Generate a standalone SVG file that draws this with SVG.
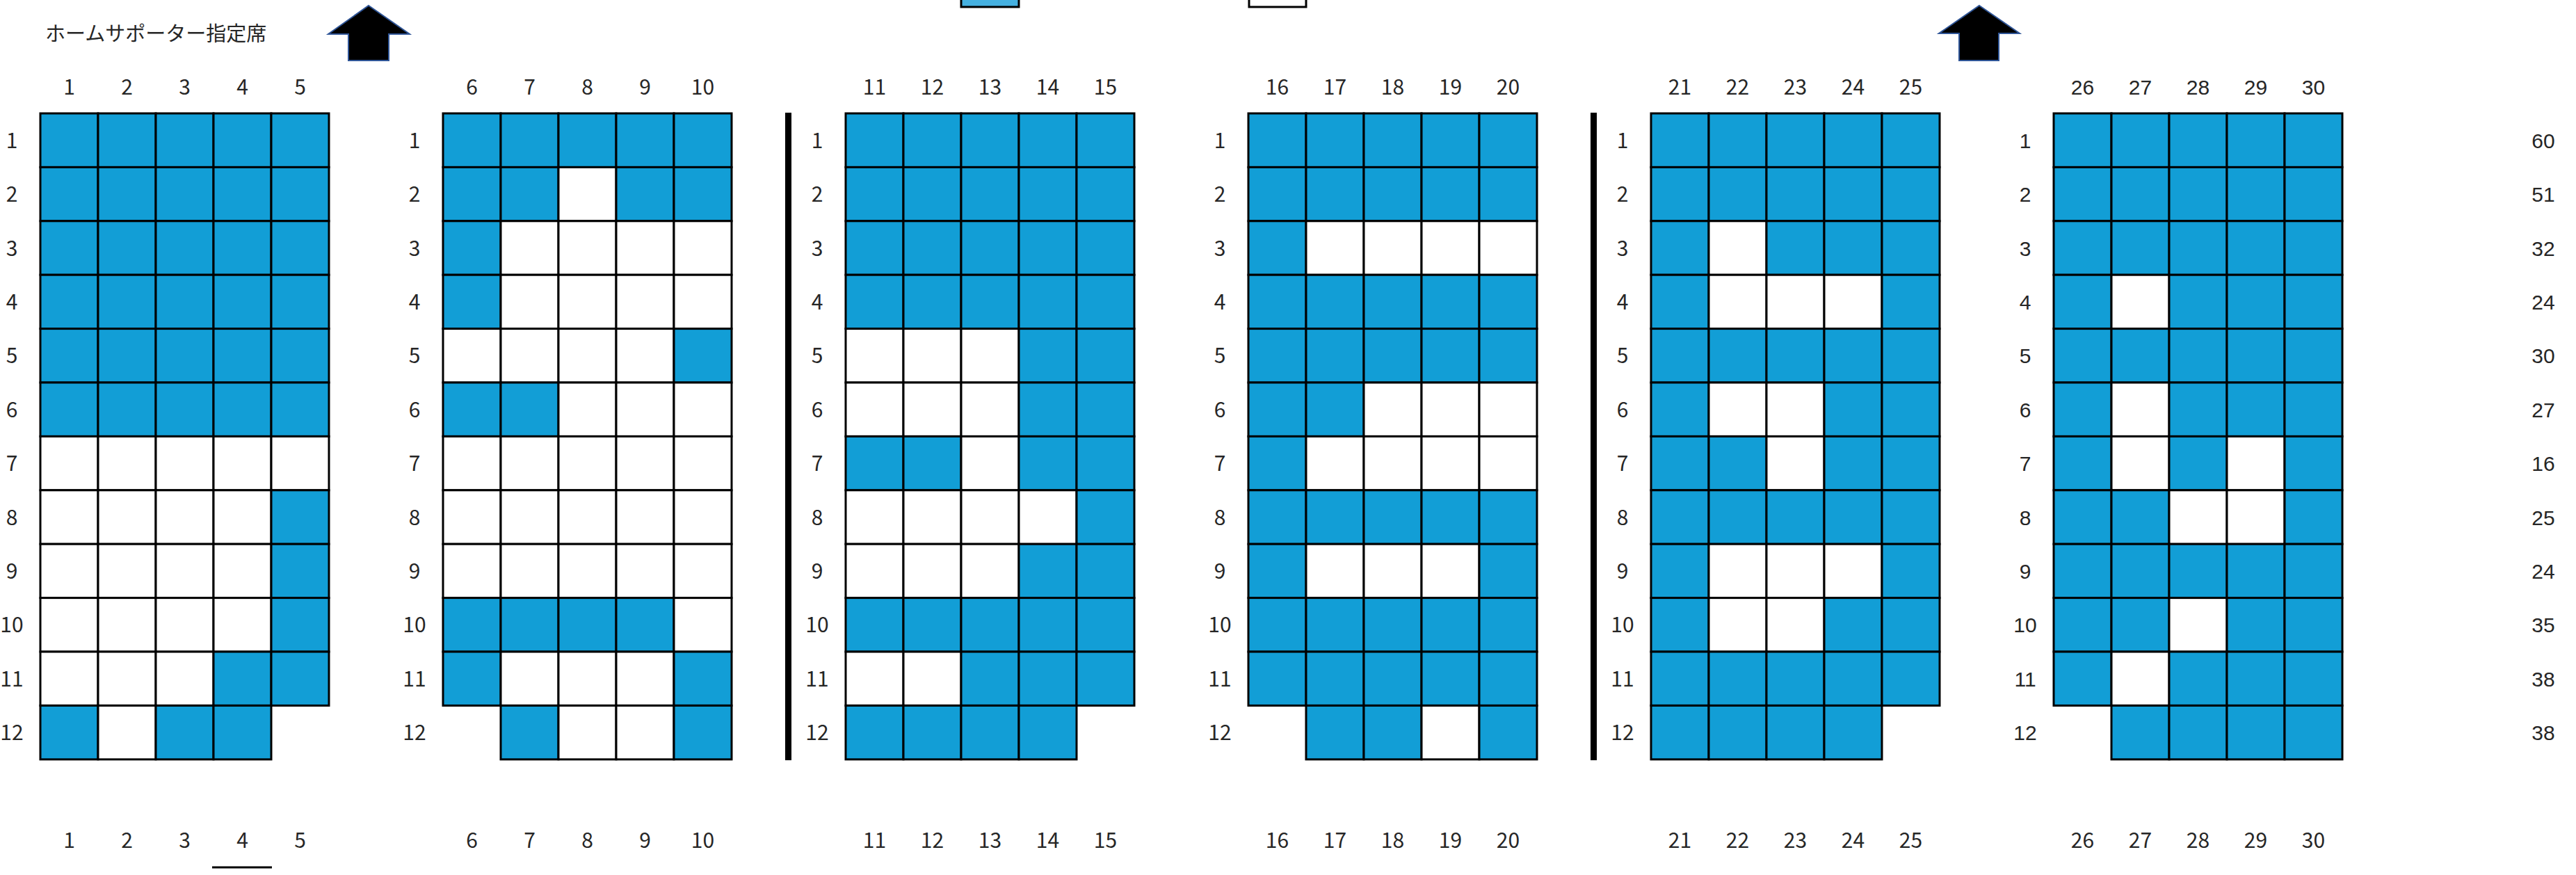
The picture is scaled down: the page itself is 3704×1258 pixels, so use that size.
<svg xmlns="http://www.w3.org/2000/svg" xmlns:xlink="http://www.w3.org/1999/xlink" width="3704" height="1258" viewBox="0 0 3704 1258">
<style>
.b{fill:#129ed6;stroke:#000;stroke-width:3}
.w{fill:#fff;stroke:#000;stroke-width:3}
text{font-family:"Noto Sans CJK JP","Noto Sans",sans-serif;font-size:30px;fill:#262626;text-anchor:middle}
.ar text{font-family:"Liberation Sans",Arial,sans-serif;font-size:30px}
.title{text-anchor:start;font-size:29px}
.arrow{fill:#000;stroke:#2f5597;stroke-width:2}
</style>
<defs>
<rect id="B" class="b" width="83" height="77.4"/>
<rect id="W" class="w" width="83" height="77.4"/>
<g id="RB"><use href="#B" x="0"/><use href="#B" x="83"/><use href="#B" x="166"/><use href="#B" x="249"/><use href="#B" x="332"/></g>
<g id="RW"><use href="#W" x="0"/><use href="#W" x="83"/><use href="#W" x="166"/><use href="#W" x="249"/><use href="#W" x="332"/></g>
<g id="rowlabels">
<text x="-41" y="49.7">1</text><text x="-41" y="127.1">2</text><text x="-41" y="204.5">3</text><text x="-41" y="281.9">4</text><text x="-41" y="359.3">5</text><text x="-41" y="436.7">6</text><text x="-41" y="514.1">7</text><text x="-41" y="591.5">8</text><text x="-41" y="668.9">9</text><text x="-41" y="746.3">10</text><text x="-41" y="823.7">11</text><text x="-41" y="901.1">12</text>
</g>
</defs>

<g id="header">
<text class="title" x="65" y="59">ホームサポーター指定席</text>
<polygon class="arrow" points="530,8 589,49 559,49 559,87 501,87 501,49 472,49"/>
<polygon class="arrow" points="2846,8 2904,48 2874,48 2874,87 2817,87 2817,48 2788,48"/>
<rect x="1382" y="-70" width="83" height="80" fill="#45b1e1" stroke="#000" stroke-width="3"/>
<rect x="1796" y="-70" width="82" height="80" fill="#fff" stroke="#000" stroke-width="3"/>
</g>

<g id="dividers">
<rect x="1129" y="162" width="9" height="931" fill="#000"/>
<rect x="2287" y="162" width="9" height="931" fill="#000"/>
</g>

<g id="block-1" transform="translate(58,163)">
<use href="#RB" y="0"/><use href="#RB" y="77.4"/><use href="#RB" y="154.8"/><use href="#RB" y="232.2"/><use href="#RB" y="309.6"/><use href="#RB" y="387"/>
<use href="#RW" y="464.4"/>
<use href="#W" x="0" y="541.8"/><use href="#W" x="83" y="541.8"/><use href="#W" x="166" y="541.8"/><use href="#W" x="249" y="541.8"/><use href="#B" x="332" y="541.8"/>
<use href="#W" x="0" y="619.2"/><use href="#W" x="83" y="619.2"/><use href="#W" x="166" y="619.2"/><use href="#W" x="249" y="619.2"/><use href="#B" x="332" y="619.2"/>
<use href="#W" x="0" y="696.6"/><use href="#W" x="83" y="696.6"/><use href="#W" x="166" y="696.6"/><use href="#W" x="249" y="696.6"/><use href="#B" x="332" y="696.6"/>
<use href="#W" x="0" y="774"/><use href="#W" x="83" y="774"/><use href="#W" x="166" y="774"/><use href="#B" x="249" y="774"/><use href="#B" x="332" y="774"/>
<use href="#B" x="0" y="851.4"/><use href="#W" x="83" y="851.4"/><use href="#B" x="166" y="851.4"/><use href="#B" x="249" y="851.4"/>
<use href="#rowlabels"/>
<text x="41.5" y="-27">1</text><text x="124.5" y="-27">2</text><text x="207.5" y="-27">3</text><text x="290.5" y="-27">4</text><text x="373.5" y="-27">5</text>
<text x="41.5" y="1056">1</text><text x="124.5" y="1056">2</text><text x="207.5" y="1056">3</text><text x="290.5" y="1056">4</text><text x="373.5" y="1056">5</text>
<line x1="247" y1="1084" x2="333" y2="1084" stroke="#000" stroke-width="3"/>
</g>

<g id="block-2" transform="translate(637,163)">
<use href="#RB" y="0"/>
<use href="#B" x="0" y="77.4"/><use href="#B" x="83" y="77.4"/><use href="#W" x="166" y="77.4"/><use href="#B" x="249" y="77.4"/><use href="#B" x="332" y="77.4"/>
<use href="#B" x="0" y="154.8"/><use href="#W" x="83" y="154.8"/><use href="#W" x="166" y="154.8"/><use href="#W" x="249" y="154.8"/><use href="#W" x="332" y="154.8"/>
<use href="#B" x="0" y="232.2"/><use href="#W" x="83" y="232.2"/><use href="#W" x="166" y="232.2"/><use href="#W" x="249" y="232.2"/><use href="#W" x="332" y="232.2"/>
<use href="#W" x="0" y="309.6"/><use href="#W" x="83" y="309.6"/><use href="#W" x="166" y="309.6"/><use href="#W" x="249" y="309.6"/><use href="#B" x="332" y="309.6"/>
<use href="#B" x="0" y="387"/><use href="#B" x="83" y="387"/><use href="#W" x="166" y="387"/><use href="#W" x="249" y="387"/><use href="#W" x="332" y="387"/>
<use href="#RW" y="464.4"/><use href="#RW" y="541.8"/><use href="#RW" y="619.2"/>
<use href="#B" x="0" y="696.6"/><use href="#B" x="83" y="696.6"/><use href="#B" x="166" y="696.6"/><use href="#B" x="249" y="696.6"/><use href="#W" x="332" y="696.6"/>
<use href="#B" x="0" y="774"/><use href="#W" x="83" y="774"/><use href="#W" x="166" y="774"/><use href="#W" x="249" y="774"/><use href="#B" x="332" y="774"/>
<use href="#B" x="83" y="851.4"/><use href="#W" x="166" y="851.4"/><use href="#W" x="249" y="851.4"/><use href="#B" x="332" y="851.4"/>
<use href="#rowlabels"/>
<text x="41.5" y="-27">6</text><text x="124.5" y="-27">7</text><text x="207.5" y="-27">8</text><text x="290.5" y="-27">9</text><text x="373.5" y="-27">10</text>
<text x="41.5" y="1056">6</text><text x="124.5" y="1056">7</text><text x="207.5" y="1056">8</text><text x="290.5" y="1056">9</text><text x="373.5" y="1056">10</text>
</g>

<g id="block-3" transform="translate(1216,163)">
<use href="#RB" y="0"/><use href="#RB" y="77.4"/><use href="#RB" y="154.8"/><use href="#RB" y="232.2"/>
<use href="#W" x="0" y="309.6"/><use href="#W" x="83" y="309.6"/><use href="#W" x="166" y="309.6"/><use href="#B" x="249" y="309.6"/><use href="#B" x="332" y="309.6"/>
<use href="#W" x="0" y="387"/><use href="#W" x="83" y="387"/><use href="#W" x="166" y="387"/><use href="#B" x="249" y="387"/><use href="#B" x="332" y="387"/>
<use href="#B" x="0" y="464.4"/><use href="#B" x="83" y="464.4"/><use href="#W" x="166" y="464.4"/><use href="#B" x="249" y="464.4"/><use href="#B" x="332" y="464.4"/>
<use href="#W" x="0" y="541.8"/><use href="#W" x="83" y="541.8"/><use href="#W" x="166" y="541.8"/><use href="#W" x="249" y="541.8"/><use href="#B" x="332" y="541.8"/>
<use href="#W" x="0" y="619.2"/><use href="#W" x="83" y="619.2"/><use href="#W" x="166" y="619.2"/><use href="#B" x="249" y="619.2"/><use href="#B" x="332" y="619.2"/>
<use href="#RB" y="696.6"/>
<use href="#W" x="0" y="774"/><use href="#W" x="83" y="774"/><use href="#B" x="166" y="774"/><use href="#B" x="249" y="774"/><use href="#B" x="332" y="774"/>
<use href="#B" x="0" y="851.4"/><use href="#B" x="83" y="851.4"/><use href="#B" x="166" y="851.4"/><use href="#B" x="249" y="851.4"/>
<use href="#rowlabels"/>
<text x="41.5" y="-27">11</text><text x="124.5" y="-27">12</text><text x="207.5" y="-27">13</text><text x="290.5" y="-27">14</text><text x="373.5" y="-27">15</text>
<text x="41.5" y="1056">11</text><text x="124.5" y="1056">12</text><text x="207.5" y="1056">13</text><text x="290.5" y="1056">14</text><text x="373.5" y="1056">15</text>
</g>

<g id="block-4" transform="translate(1795,163)">
<use href="#RB" y="0"/><use href="#RB" y="77.4"/>
<use href="#B" x="0" y="154.8"/><use href="#W" x="83" y="154.8"/><use href="#W" x="166" y="154.8"/><use href="#W" x="249" y="154.8"/><use href="#W" x="332" y="154.8"/>
<use href="#RB" y="232.2"/><use href="#RB" y="309.6"/>
<use href="#B" x="0" y="387"/><use href="#B" x="83" y="387"/><use href="#W" x="166" y="387"/><use href="#W" x="249" y="387"/><use href="#W" x="332" y="387"/>
<use href="#B" x="0" y="464.4"/><use href="#W" x="83" y="464.4"/><use href="#W" x="166" y="464.4"/><use href="#W" x="249" y="464.4"/><use href="#W" x="332" y="464.4"/>
<use href="#RB" y="541.8"/>
<use href="#B" x="0" y="619.2"/><use href="#W" x="83" y="619.2"/><use href="#W" x="166" y="619.2"/><use href="#W" x="249" y="619.2"/><use href="#B" x="332" y="619.2"/>
<use href="#RB" y="696.6"/><use href="#RB" y="774"/>
<use href="#B" x="83" y="851.4"/><use href="#B" x="166" y="851.4"/><use href="#W" x="249" y="851.4"/><use href="#B" x="332" y="851.4"/>
<use href="#rowlabels"/>
<text x="41.5" y="-27">16</text><text x="124.5" y="-27">17</text><text x="207.5" y="-27">18</text><text x="290.5" y="-27">19</text><text x="373.5" y="-27">20</text>
<text x="41.5" y="1056">16</text><text x="124.5" y="1056">17</text><text x="207.5" y="1056">18</text><text x="290.5" y="1056">19</text><text x="373.5" y="1056">20</text>
</g>

<g id="block-5" transform="translate(2374,163)">
<use href="#RB" y="0"/><use href="#RB" y="77.4"/>
<use href="#B" x="0" y="154.8"/><use href="#W" x="83" y="154.8"/><use href="#B" x="166" y="154.8"/><use href="#B" x="249" y="154.8"/><use href="#B" x="332" y="154.8"/>
<use href="#B" x="0" y="232.2"/><use href="#W" x="83" y="232.2"/><use href="#W" x="166" y="232.2"/><use href="#W" x="249" y="232.2"/><use href="#B" x="332" y="232.2"/>
<use href="#RB" y="309.6"/>
<use href="#B" x="0" y="387"/><use href="#W" x="83" y="387"/><use href="#W" x="166" y="387"/><use href="#B" x="249" y="387"/><use href="#B" x="332" y="387"/>
<use href="#B" x="0" y="464.4"/><use href="#B" x="83" y="464.4"/><use href="#W" x="166" y="464.4"/><use href="#B" x="249" y="464.4"/><use href="#B" x="332" y="464.4"/>
<use href="#RB" y="541.8"/>
<use href="#B" x="0" y="619.2"/><use href="#W" x="83" y="619.2"/><use href="#W" x="166" y="619.2"/><use href="#W" x="249" y="619.2"/><use href="#B" x="332" y="619.2"/>
<use href="#B" x="0" y="696.6"/><use href="#W" x="83" y="696.6"/><use href="#W" x="166" y="696.6"/><use href="#B" x="249" y="696.6"/><use href="#B" x="332" y="696.6"/>
<use href="#RB" y="774"/>
<use href="#B" x="0" y="851.4"/><use href="#B" x="83" y="851.4"/><use href="#B" x="166" y="851.4"/><use href="#B" x="249" y="851.4"/>
<use href="#rowlabels"/>
<text x="41.5" y="-27">21</text><text x="124.5" y="-27">22</text><text x="207.5" y="-27">23</text><text x="290.5" y="-27">24</text><text x="373.5" y="-27">25</text>
<text x="41.5" y="1056">21</text><text x="124.5" y="1056">22</text><text x="207.5" y="1056">23</text><text x="290.5" y="1056">24</text><text x="373.5" y="1056">25</text>
</g>

<g id="block-6" transform="translate(2953,163)">
<use href="#RB" y="0"/><use href="#RB" y="77.4"/><use href="#RB" y="154.8"/>
<use href="#B" x="0" y="232.2"/><use href="#W" x="83" y="232.2"/><use href="#B" x="166" y="232.2"/><use href="#B" x="249" y="232.2"/><use href="#B" x="332" y="232.2"/>
<use href="#RB" y="309.6"/>
<use href="#B" x="0" y="387"/><use href="#W" x="83" y="387"/><use href="#B" x="166" y="387"/><use href="#B" x="249" y="387"/><use href="#B" x="332" y="387"/>
<use href="#B" x="0" y="464.4"/><use href="#W" x="83" y="464.4"/><use href="#B" x="166" y="464.4"/><use href="#W" x="249" y="464.4"/><use href="#B" x="332" y="464.4"/>
<use href="#B" x="0" y="541.8"/><use href="#B" x="83" y="541.8"/><use href="#W" x="166" y="541.8"/><use href="#W" x="249" y="541.8"/><use href="#B" x="332" y="541.8"/>
<use href="#RB" y="619.2"/>
<use href="#B" x="0" y="696.6"/><use href="#B" x="83" y="696.6"/><use href="#W" x="166" y="696.6"/><use href="#B" x="249" y="696.6"/><use href="#B" x="332" y="696.6"/>
<use href="#B" x="0" y="774"/><use href="#W" x="83" y="774"/><use href="#B" x="166" y="774"/><use href="#B" x="249" y="774"/><use href="#B" x="332" y="774"/>
<use href="#B" x="83" y="851.4"/><use href="#B" x="166" y="851.4"/><use href="#B" x="249" y="851.4"/><use href="#B" x="332" y="851.4"/>
<g class="ar">
<text x="-41" y="49.7">1</text><text x="-41" y="127.1">2</text><text x="-41" y="204.5">3</text><text x="-41" y="281.9">4</text><text x="-41" y="359.3">5</text><text x="-41" y="436.7">6</text><text x="-41" y="514.1">7</text><text x="-41" y="591.5">8</text><text x="-41" y="668.9">9</text><text x="-41" y="746.3">10</text><text x="-41" y="823.7">11</text><text x="-41" y="901.1">12</text>
<text x="41.5" y="-27">26</text><text x="124.5" y="-27">27</text><text x="207.5" y="-27">28</text><text x="290.5" y="-27">29</text><text x="373.5" y="-27">30</text>
</g>
<text x="41.5" y="1056">26</text><text x="124.5" y="1056">27</text><text x="207.5" y="1056">28</text><text x="290.5" y="1056">29</text><text x="373.5" y="1056">30</text>
</g>

<g id="totals" class="ar" transform="translate(3657,163)">
<text x="0" y="49.7">60</text><text x="0" y="127.1">51</text><text x="0" y="204.5">32</text><text x="0" y="281.9">24</text><text x="0" y="359.3">30</text><text x="0" y="436.7">27</text><text x="0" y="514.1">16</text><text x="0" y="591.5">25</text><text x="0" y="668.9">24</text><text x="0" y="746.3">35</text><text x="0" y="823.7">38</text><text x="0" y="901.1">38</text>
</g>
</svg>
